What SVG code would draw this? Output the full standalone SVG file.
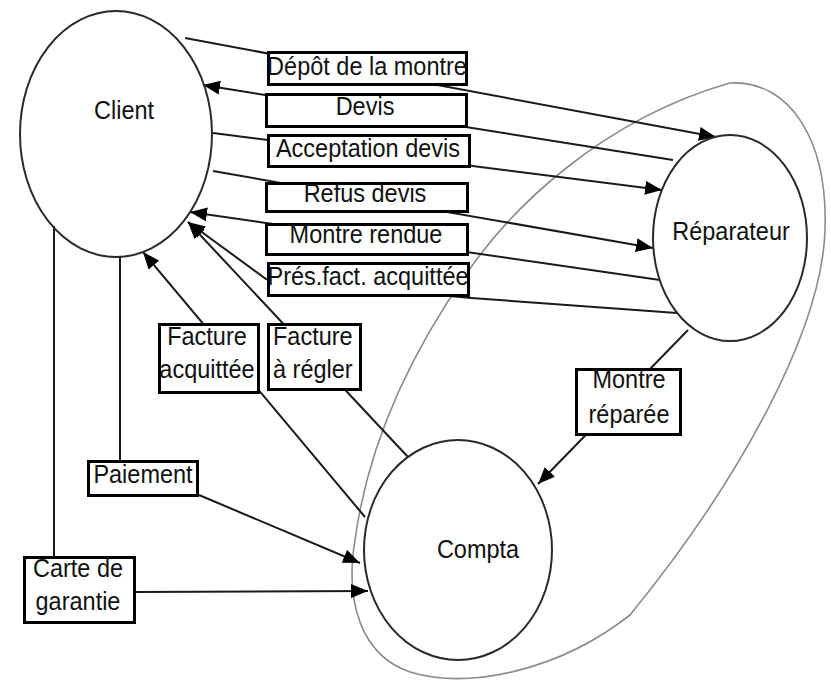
<svg xmlns="http://www.w3.org/2000/svg" width="831" height="683" viewBox="0 0 831 683">
<style>
text{font-family:"Liberation Sans",Arial,sans-serif;font-size:23.5px;fill:#111}
.c{text-anchor:middle}
.s{text-anchor:start}
.node{fill:none;stroke:#2a2a2a;stroke-width:2}
.box{fill:#fff;stroke:#000;stroke-width:3}
.ln{fill:none;stroke:#1a1a1a;stroke-width:2}
.arr{marker-end:url(#ah)}
.outline{fill:none;stroke:#8c8c8c;stroke-width:1.6}
</style>
<defs>
<marker id="ah" markerUnits="userSpaceOnUse" markerWidth="18" markerHeight="14" refX="17" refY="7" orient="auto">
<path d="M0,0 L17,7 L0,14 z" fill="#000"/>
</marker>
</defs>
<rect width="831" height="683" fill="#fff"/>
<path class="outline" d="M730 83 C790 80 828 140 825 230 C822 330 740 480 630 615 C560 670 470 690 410 672 C360 655 345 600 355 540 C370 430 420 340 467 273 C510 210 600 120 730 83 Z"/>
<g id="connectors">
<path class="ln arr" d="M185 38 L716 137"/>
<path class="ln arr" d="M673 160 L203 85"/>
<path class="ln arr" d="M213 133 L662 190"/>
<path class="ln arr" d="M213 171 L653 248"/>
<path class="ln arr" d="M660 280 L190 212"/>
<path class="ln arr" d="M677 313 L471 298 L266 279 L188 222"/>
<path class="ln arr" d="M408 457 L188 222"/>
<path class="ln arr" d="M365 517 L143 252"/>
<path class="ln arr" d="M120 257 V460 M199 495 L360 563"/>
<path class="ln arr" d="M54 226 V556 M136 592 L368 591"/>
<path class="ln arr" d="M688 330 L538 484"/>
</g>
<g id="client">
<ellipse class="node" cx="116" cy="134" rx="96" ry="123"/>
<text class="c" transform="translate(124,119) scale(1,1.12)">Client</text>
</g>
<g id="reparateur">
<ellipse class="node" cx="730" cy="238" rx="77" ry="103"/>
<text class="c" transform="translate(731,240) scale(1,1.12)">Réparateur</text>
</g>
<g id="compta">
<ellipse class="node" cx="458" cy="550" rx="94" ry="110"/>
<text class="c" transform="translate(478,558) scale(1,1.12)">Compta</text>
</g>
<g id="depot">
<rect class="box" x="268.5" y="52.5" width="198" height="32"/>
<text class="c" transform="translate(367,75) scale(1,1.12)">Dépôt de la montre</text>
</g>
<g id="devis">
<rect class="box" x="266.5" y="94.5" width="200" height="32"/>
<text class="c" transform="translate(365,115) scale(1,1.12)">Devis</text>
</g>
<g id="acceptation">
<rect class="box" x="268.5" y="135.5" width="201" height="31"/>
<text class="c" transform="translate(368,157) scale(1,1.12)">Acceptation devis</text>
</g>
<g id="refus">
<rect class="box" x="266.5" y="183.5" width="201" height="28"/>
<text class="c" transform="translate(365,202) scale(1,1.12)">Refus devis</text>
</g>
<g id="rendue">
<rect class="box" x="266.5" y="224.5" width="201" height="30"/>
<text class="c" transform="translate(366,243) scale(1,1.12)">Montre rendue</text>
</g>
<g id="presfact">
<rect class="box" x="268.5" y="263.5" width="200" height="32"/>
<text class="c" transform="translate(368,285) scale(1,1.12)">Prés.fact. acquittée</text>
</g>
<g id="factacq">
<rect class="box" x="159.5" y="324.5" width="99" height="68"/>
<text class="c" transform="translate(207,345) scale(1,1.12)">Facture</text>
<text class="c" transform="translate(207,378) scale(1,1.12)">acquittée</text>
</g>
<g id="factregler">
<rect class="box" x="268.5" y="324.5" width="92" height="65"/>
<text class="s" transform="translate(273,345) scale(1,1.12)">Facture</text>
<text class="s" transform="translate(273,378) scale(1,1.12)">à régler</text>
</g>
<g id="paiement">
<rect class="box" x="88.5" y="461.5" width="109" height="34"/>
<text class="c" transform="translate(143,483) scale(1,1.12)">Paiement</text>
</g>
<g id="carte">
<rect class="box" x="24.5" y="557.5" width="110" height="65"/>
<text class="c" transform="translate(78,577) scale(1,1.12)">Carte de</text>
<text class="c" transform="translate(78,610) scale(1,1.12)">garantie</text>
</g>
<g id="reparee">
<rect class="box" x="576.5" y="369.5" width="104" height="65"/>
<text class="c" transform="translate(629,388) scale(1,1.12)">Montre</text>
<text class="c" transform="translate(629,423) scale(1,1.12)">réparée</text>
</g>
</svg>
